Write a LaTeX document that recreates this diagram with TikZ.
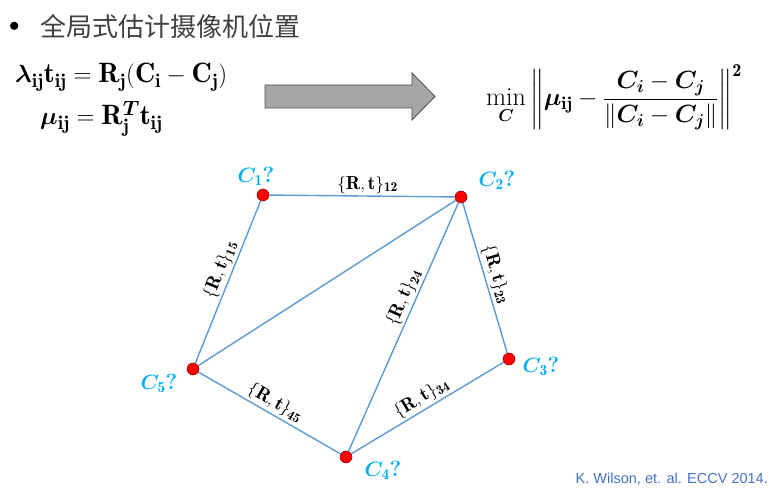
\documentclass[tikz,border=0pt]{standalone}
\usepackage{amsmath}
\usepackage{bm}
\usepackage{fontspec}
\newfontfamily\cjk{Noto Sans CJK SC}
\newfontfamily\citefont{Liberation Sans}
\usetikzlibrary{positioning}
\definecolor{camblue}{HTML}{00B0F0}
\definecolor{edgeblue}{HTML}{5B9BD5}
\definecolor{citeblue}{HTML}{4472C4}
\definecolor{arrowgray}{HTML}{A6A6A6}
\tikzset{
  cam/.style = {
    circle, fill=red, draw=red!50!black, line width=0.5pt,
    inner sep=0pt, minimum size=12pt
  },
  link/.style = {draw=edgeblue, line width=1.4pt},
  camlabel/.style = {text=camblue, font=\fontsize{22}{26}\selectfont},
  rtlabel/.style = {font=\fontsize{19}{22}\selectfont, inner sep=2pt},
  eqn/.style = {font=\fontsize{28}{32}\selectfont, anchor=west, inner sep=0pt},
}
\newcommand{\rt}[1]{$\{\mathbf{R},\mathbf{t}\}_{\mathbf{#1}}$}

\begin{document}
\begin{tikzpicture}[x=1pt, y=-1pt]
  \useasboundingbox (0,0) rectangle (772,494);

  \node[anchor=west, inner sep=0pt, font=\fontsize{20}{24}\selectfont] (bul) at (9,27) {$\bullet$};
  \node[anchor=west, inner sep=0pt, font=\cjk\fontsize{26}{30}\selectfont, text=black!75] (title) at (40,27) {全局式估计摄像机位置};

  \node[eqn] (eq1) at (15,77) {$\bm{\lambda}_{\mathbf{ij}}\mathbf{t}_{\mathbf{ij}} = \mathbf{R}_{\mathbf{j}}(\mathbf{C}_{\mathbf{i}} - \mathbf{C}_{\mathbf{j}})$};
  \node[eqn] (eq2) at (40,119) {$\bm{\mu}_{\mathbf{ij}} = \mathbf{R}_{\mathbf{j}}^{\bm{T}}\mathbf{t}_{\mathbf{ij}}$};

  \draw[fill=arrowgray, draw=black!70, line width=0.8pt]
    (265,85) -- (412,85) -- (412,73) -- (435,96.5) -- (412,120) -- (412,108) -- (265,108) -- cycle;

  \node[font=\fontsize{26}{30}\selectfont, inner sep=0pt] (cost) at (614,97)
    {$\displaystyle\min_{\bm{C}}\left\|\bm{\mu}_{\mathbf{ij}} - \frac{\bm{C}_{\bm{i}} - \bm{C}_{\bm{j}}}{\left\|\bm{C}_{\bm{i}} - \bm{C}_{\bm{j}}\right\|}\right\|^{\mathbf{2}}$};

  \node[cam] (c1) at (263,195) {};
  \node[cam] (c2) at (461,197) {};
  \node[cam] (c3) at (509,359) {};
  \node[cam] (c4) at (346,457) {};
  \node[cam] (c5) at (193,369) {};

  \draw[link] (c1) -- node[rtlabel, above, pos=0.53] (e12) {\rt{12}} (c2);
  \draw[link] (c2) -- node[rtlabel, sloped, above] (e23) {\rt{23}} (c3);
  \draw[link] (c4) -- node[rtlabel, sloped, above] (e34) {\rt{34}} (c3);
  \draw[link] (c5) -- node[rtlabel, sloped, above] (e45) {\rt{45}} (c4);
  \draw[link] (c5) -- node[rtlabel, sloped, above, pos=0.55] (e15) {\rt{15}} (c1);
  \draw[link] (c5) -- (c2);
  \draw[link] (c4) -- node[rtlabel, sloped, above, pos=0.6] (e24) {\rt{24}} (c2);

  \node[camlabel] (l1) at (256,176) {$\bm{C}_{\mathbf{1}}$\textbf{?}};
  \node[camlabel] (l2) at (497,180) {$\bm{C}_{\mathbf{2}}$\textbf{?}};
  \node[camlabel] (l3) at (541,366) {$\bm{C}_{\mathbf{3}}$\textbf{?}};
  \node[camlabel] (l4) at (383,470) {$\bm{C}_{\mathbf{4}}$\textbf{?}};
  \node[camlabel] (l5) at (159,383) {$\bm{C}_{\mathbf{5}}$\textbf{?}};

  \node[anchor=east, inner sep=0pt, text=citeblue, font=\citefont\fontsize{14.5}{17}\selectfont] (cite) at (768,479) {K. Wilson, et. al. ECCV 2014.};
\end{tikzpicture}
\end{document}
